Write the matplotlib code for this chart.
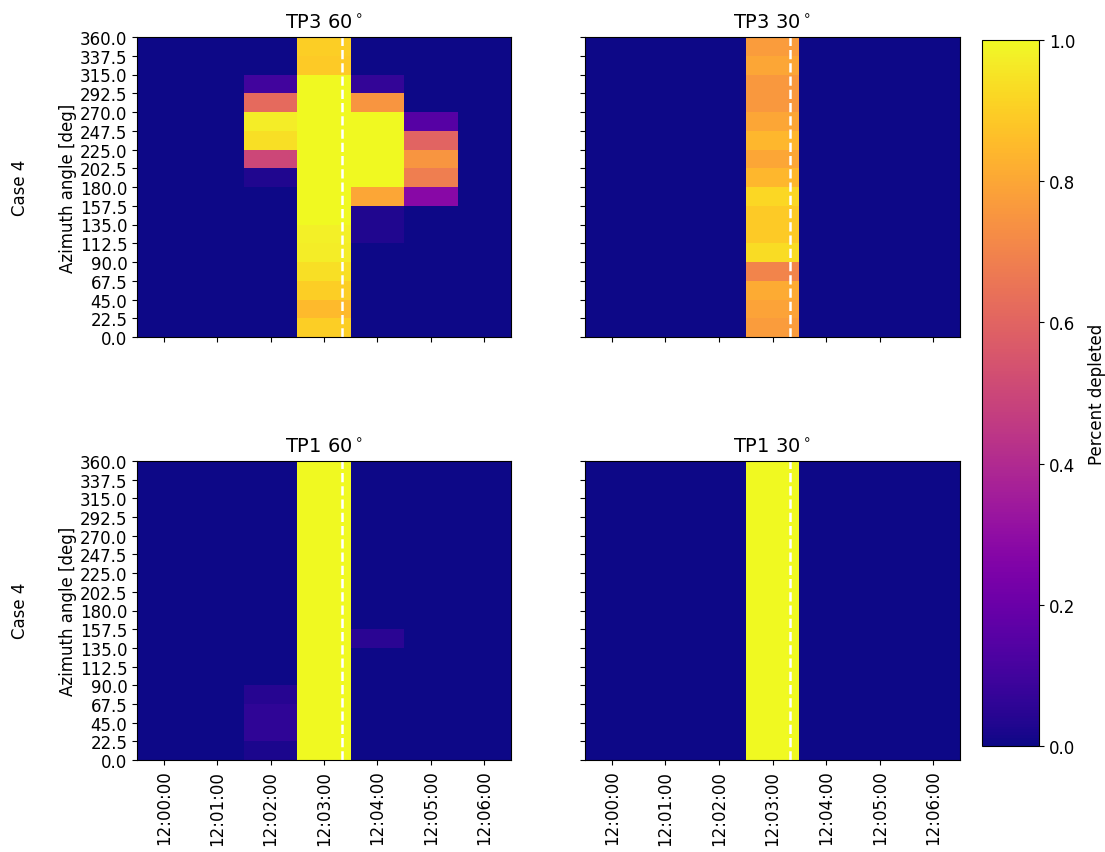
import numpy as np
import matplotlib
matplotlib.use("Agg")
import matplotlib.pyplot as plt

# time columns (minutes after 12:00) and azimuth bin edges
time_labels = ["12:00:00", "12:01:00", "12:02:00", "12:03:00", "12:04:00", "12:05:00", "12:06:00"]
azimuth_edges = [0.0, 22.5, 45.0, 67.5, 90.0, 112.5, 135.0, 157.5, 180.0,
                 202.5, 225.0, 247.5, 270.0, 292.5, 315.0, 337.5, 360.0]
event_minute = 3 + 20 / 60.0

# depletion per time column, rows listed from azimuth 0 upwards
tp3_60 = {
    2: [0, 0, 0, 0, 0, 0, 0, 0, 0.03, 0.50, 0.94, 0.97, 0.62, 0.10, 0, 0],
    3: [0.90, 0.85, 0.90, 0.94, 0.97, 0.98, 1.0, 1.0, 1.0, 1.0, 1.0, 1.0, 1.0, 1.0, 0.89, 0.90],
    4: [0, 0, 0, 0, 0, 0.03, 0.03, 0.80, 1.0, 1.0, 1.0, 1.0, 0.75, 0.07, 0, 0],
    5: [0, 0, 0, 0, 0, 0, 0, 0.28, 0.68, 0.75, 0.60, 0.15, 0, 0, 0, 0],
}
tp3_30 = {
    3: [0.77, 0.79, 0.81, 0.70, 0.93, 0.89, 0.89, 0.92, 0.84, 0.80, 0.84, 0.80, 0.76, 0.76, 0.80, 0.77],
}
tp1_60 = {
    2: [0.02, 0.06, 0.06, 0.04, 0, 0, 0, 0, 0, 0, 0, 0, 0, 0, 0, 0],
    3: [1.0] * 16,
    4: [0, 0, 0, 0, 0, 0, 0.05, 0, 0, 0, 0, 0, 0, 0, 0, 0],
}
tp1_30 = {
    3: [1.0] * 16,
}

panels = [
    ("TP3 60$^\\circ$", tp3_60),
    ("TP3 30$^\\circ$", tp3_30),
    ("TP1 60$^\\circ$", tp1_60),
    ("TP1 30$^\\circ$", tp1_30),
]


def build_grid(cols):
    grid = np.zeros((len(azimuth_edges) - 1, len(time_labels)))
    for c, vals in cols.items():
        grid[:, c] = vals
    return grid


fig = plt.figure(figsize=(11.05, 8.53), dpi=100)
W, H = 1105.0, 853.0
boxes = [(137, 38, 511, 338), (585, 38, 960, 338),
         (137, 462, 511, 761), (585, 462, 960, 761)]

t_edges = np.arange(len(time_labels) + 1) - 0.5
axes = []
for i, (title, cols) in enumerate(panels):
    x0, y0, x1, y1 = boxes[i]
    ax = fig.add_axes([x0 / W, 1 - y1 / H, (x1 - x0) / W, (y1 - y0) / H])
    mesh = ax.pcolormesh(t_edges, azimuth_edges, build_grid(cols),
                         cmap="plasma", vmin=0, vmax=1)
    ax.axvline(event_minute, color="white", linestyle="--", linewidth=1.8)
    ax.set_title(title, fontsize=14)
    ax.set_yticks(azimuth_edges)
    ax.set_xticks(np.arange(len(time_labels)))
    ax.set_xlim(t_edges[0], t_edges[-1])
    ax.set_ylim(0, 360)
    if i % 2 == 0:
        ax.set_yticklabels(["%.1f" % a for a in azimuth_edges], fontsize=12)
        ax.set_ylabel("Azimuth angle [deg]", fontsize=12, labelpad=2)
    else:
        ax.set_yticklabels([])
    if i >= 2:
        ax.set_xticklabels(time_labels, rotation=90, fontsize=12)
    else:
        ax.set_xticklabels([])
    axes.append(ax)

fig.text(20 / W, 1 - 188 / H, "Case 4", rotation=90, fontsize=12, ha="center", va="center")
fig.text(20 / W, 1 - 611 / H, "Case 4", rotation=90, fontsize=12, ha="center", va="center")

cax = fig.add_axes([982 / W, 1 - 747 / H, 57 / W, 706 / H])
cb = fig.colorbar(mesh, cax=cax)
cb.set_ticks([0.0, 0.2, 0.4, 0.6, 0.8, 1.0])
cb.ax.tick_params(labelsize=12)
cb.set_label("Percent depleted", fontsize=12, labelpad=9)

fig.savefig("out.png", dpi=100)
